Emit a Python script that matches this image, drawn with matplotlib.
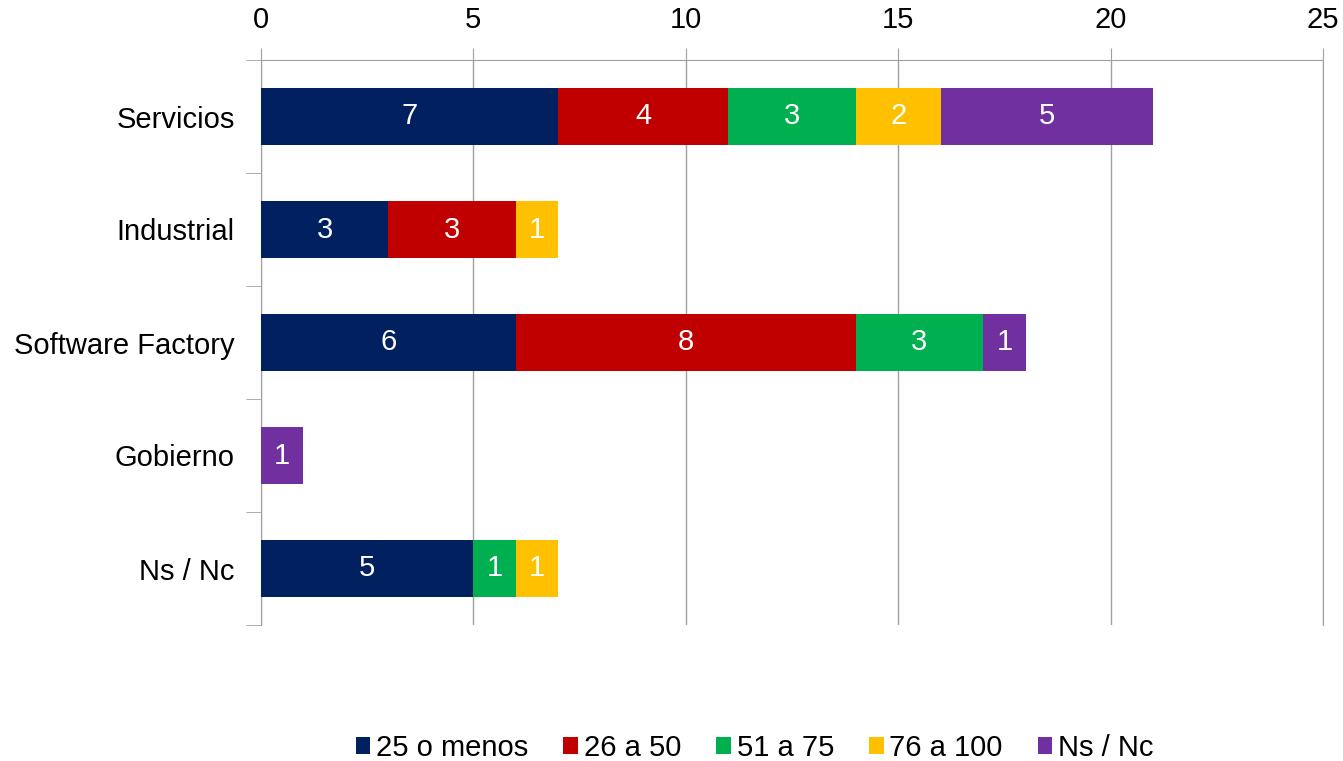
import matplotlib.pyplot as plt
import numpy as np

plt.rcParams['font.family'] = ['Liberation Sans', 'DejaVu Sans']

# Data
sectores = ["Servicios", "Industrial", "Software Factory", "Gobierno", "Ns / Nc"]
rangos = ["25 o menos", "26 a 50", "51 a 75", "76 a 100", "Ns / Nc"]
menos_25 = [7, 3, 6, 0, 5]
de_26_a_50 = [4, 3, 8, 0, 0]
de_51_a_75 = [3, 0, 3, 0, 1]
de_76_a_100 = [2, 1, 0, 0, 1]
ns_nc = [5, 0, 1, 1, 0]
series = [menos_25, de_26_a_50, de_51_a_75, de_76_a_100, ns_nc]
colores = ["#002060", "#C00000", "#00B050", "#FFC000", "#7030A0"]

grid_color = "#A0A0A0"
fs = 21

fig = plt.figure(figsize=(13.43, 7.61), dpi=100)
ax = fig.add_axes([261 / 1343, 1 - 625 / 761, (1323 - 261) / 1343, (625 - 60) / 761])

y = np.arange(len(sectores))
left = np.zeros(len(sectores))
for valores, nombre, color in zip(series, rangos, colores):
    valores = np.array(valores, dtype=float)
    barras = ax.barh(y, valores, height=0.5, left=left, color=color, label=nombre, zorder=3)
    for rect, v in zip(barras, valores):
        if v > 0:
            ax.text(rect.get_x() + rect.get_width() / 2, rect.get_y() + rect.get_height() / 2,
                    f"{int(v)}", ha='center', va='center', color='white', fontsize=fs, zorder=4)
    left += valores

ax.set_xlim(0, 25)
ax.set_ylim(len(sectores) - 0.5, -0.5)
ax.xaxis.tick_top()
ax.set_xticks(np.arange(0, 26, 5))
ax.tick_params(axis='x', length=9, color=grid_color, labelsize=fs, pad=10)
ax.grid(axis='x', color=grid_color, linewidth=1, zorder=0)

# category labels centred, tick marks between categories
ax.set_yticks(y)
ax.set_yticklabels(sectores)
ax.set_yticks(np.arange(-0.5, len(sectores)), minor=True)
ax.tick_params(axis='y', which='major', length=0, labelsize=fs, pad=19)
ax.tick_params(axis='y', which='minor', length=11, color=grid_color)

ax.spines['bottom'].set_visible(False)
for side in ['top', 'left', 'right']:
    ax.spines[side].set_color(grid_color)

fig.legend(loc='center', bbox_to_anchor=(0.562, 1 - 748 / 761), ncol=5, frameon=False,
           fontsize=fs, handlelength=0.5, handleheight=0.5, handletextpad=0.2, columnspacing=1.2)

fig.savefig("out.png", dpi=100)
